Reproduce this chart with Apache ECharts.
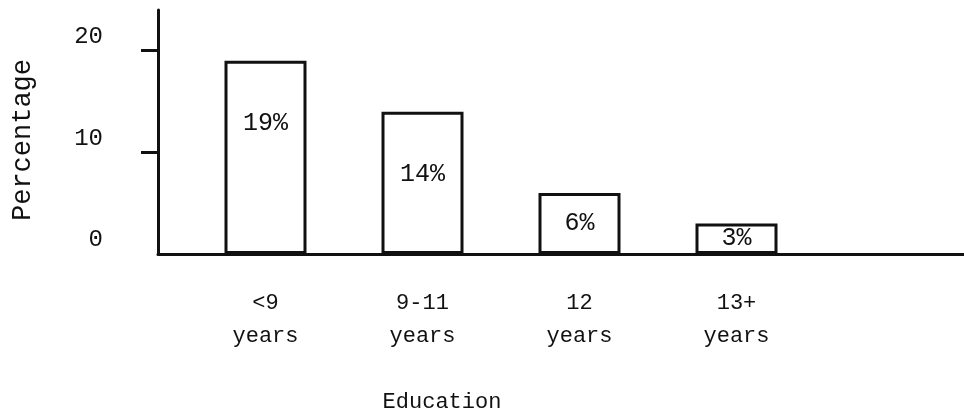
<!DOCTYPE html>
<html>
<head>
<meta charset="utf-8">
<script src="https://cdn.jsdelivr.net/npm/echarts@6/dist/echarts.min.js"></script>
<style>
  html, body { margin: 0; padding: 0; background: #fff; }
  #chart { width: 964px; height: 415px; }
</style>
</head>
<body>
<div id="chart"></div>
<script>
var categories = ['<9\nyears', '9-11\nyears', '12\nyears', '13+\nyears']
var percents = [19, 14, 6, 3]
var yTicks = [0, 10, 20]

var font = '"Liberation Mono", "DejaVu Sans Mono", monospace'
var ink = '#111'

var myChart = echarts.init(document.getElementById('chart'))

myChart.setOption({
    backgroundColor: '#fff',
    animation: false,
    title: {
        text: 'Education',
        left: 437,
        top: 386,
        textAlign: 'center',
        textStyle: { fontFamily: font, fontSize: 22, fontWeight: 'normal', color: ink }
    },
    grid: [
        // frame: y axis + baseline
        { left: 158, right: 0, top: 10, bottom: 161 },
        // bars
        { left: 187, width: 628, top: 10, bottom: 161 }
    ],
    xAxis: [
        {
            gridIndex: 0,
            type: 'value',
            axisLine: { show: true, onZero: false, lineStyle: { color: ink, width: 3 } },
            axisTick: { show: false },
            axisLabel: { show: false },
            splitLine: { show: false }
        },
        {
            gridIndex: 1,
            type: 'category',
            data: categories,
            axisLine: { show: false },
            axisTick: { show: false },
            axisLabel: {
                margin: 33,
                fontFamily: font,
                fontSize: 22,
                lineHeight: 33,
                color: ink
            }
        }
    ],
    yAxis: [
        {
            gridIndex: 0,
            type: 'value',
            min: 0,
            max: 24,
            interval: 10,
            name: 'Percentage',
            nameLocation: 'middle',
            nameGap: 122,
            nameRotate: 90,
            nameTextStyle: { fontFamily: font, fontSize: 27, color: ink, padding: [0, 16, 0, 0] },
            axisLine: { show: true, lineStyle: { color: ink, width: 3 } },
            axisTick: {
                show: true,
                length: 17,
                customValues: [10, 20],
                lineStyle: { color: ink, width: 3 }
            },
            axisLabel: {
                customValues: yTicks,
                margin: 55,
                fontFamily: font,
                fontSize: 24,
                color: ink,
                verticalAlign: 'bottom',
                padding: [0, 0, 2, 0]
            },
            splitLine: { show: false }
        },
        {
            gridIndex: 1,
            type: 'value',
            min: 0,
            max: 24,
            show: false
        }
    ],
    series: [
        {
            type: 'bar',
            xAxisIndex: 1,
            yAxisIndex: 1,
            barWidth: 82,
            data: percents.map(function (v) {
                return {
                    value: v,
                    // short bars get the label in the middle
                    label: v >= 10 ? { position: 'insideTop', distance: 50 } : { position: 'inside' }
                }
            }),
            itemStyle: { color: '#fff', borderColor: ink, borderWidth: 3 },
            label: {
                show: true,
                formatter: '{c}%',
                fontFamily: font,
                fontSize: 25,
                color: ink
            }
        }
    ]
})

window.onresize = myChart.resize
</script>
</body>
</html>
